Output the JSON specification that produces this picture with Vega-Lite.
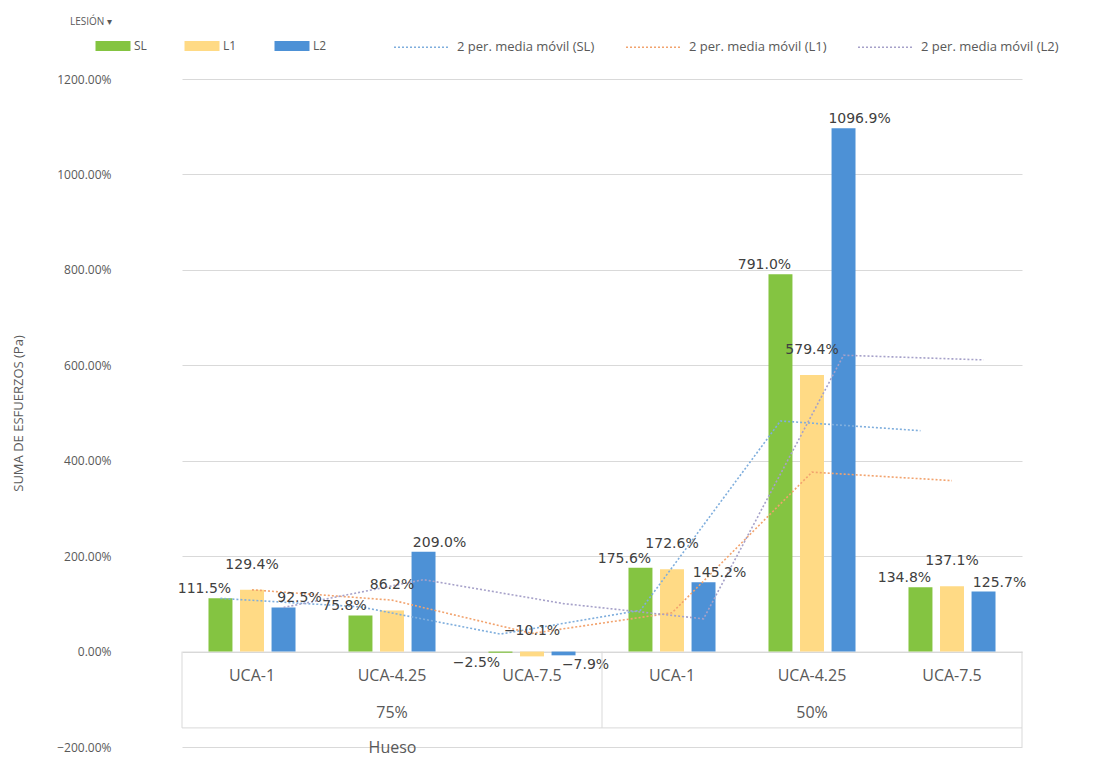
{
  "$schema": "https://vega.github.io/schema/vega-lite/v6.json",
  "width": 840,
  "height": 668,
  "autosize": {"type": "none"},
  "padding": {"left": 182, "top": 79, "right": 71, "bottom": 11},
  "background": "white",
  "locale": {"number": {"decimal": ".", "thousands": ",", "grouping": [3], "currency": ["$", ""], "minus": "-"}},
  "title": {"text": "LESIÓN ▾", "anchor": "start", "frame": "group", "dx": -112, "dy": 12, "fontSize": 10, "font": "Open Sans", "fontWeight": "normal", "color": "#595959", "offset": 4},
  "config": {"view": {"stroke": null}, "font": "Open Sans"},
  "datasets": {
    "barras": [
      {"grupo": "75%", "uca": "UCA-1", "cat": "75%|UCA-1", "serie": "SL", "valor": 1.115},
      {"grupo": "75%", "uca": "UCA-1", "cat": "75%|UCA-1", "serie": "L1", "valor": 1.294},
      {"grupo": "75%", "uca": "UCA-1", "cat": "75%|UCA-1", "serie": "L2", "valor": 0.925},
      {"grupo": "75%", "uca": "UCA-4.25", "cat": "75%|UCA-4.25", "serie": "SL", "valor": 0.758},
      {"grupo": "75%", "uca": "UCA-4.25", "cat": "75%|UCA-4.25", "serie": "L1", "valor": 0.862},
      {"grupo": "75%", "uca": "UCA-4.25", "cat": "75%|UCA-4.25", "serie": "L2", "valor": 2.09},
      {"grupo": "75%", "uca": "UCA-7.5", "cat": "75%|UCA-7.5", "serie": "SL", "valor": -0.025},
      {"grupo": "75%", "uca": "UCA-7.5", "cat": "75%|UCA-7.5", "serie": "L1", "valor": -0.101},
      {"grupo": "75%", "uca": "UCA-7.5", "cat": "75%|UCA-7.5", "serie": "L2", "valor": -0.079},
      {"grupo": "50%", "uca": "UCA-1", "cat": "50%|UCA-1", "serie": "SL", "valor": 1.756},
      {"grupo": "50%", "uca": "UCA-1", "cat": "50%|UCA-1", "serie": "L1", "valor": 1.726},
      {"grupo": "50%", "uca": "UCA-1", "cat": "50%|UCA-1", "serie": "L2", "valor": 1.452},
      {"grupo": "50%", "uca": "UCA-4.25", "cat": "50%|UCA-4.25", "serie": "SL", "valor": 7.91},
      {"grupo": "50%", "uca": "UCA-4.25", "cat": "50%|UCA-4.25", "serie": "L1", "valor": 5.794},
      {"grupo": "50%", "uca": "UCA-4.25", "cat": "50%|UCA-4.25", "serie": "L2", "valor": 10.969},
      {"grupo": "50%", "uca": "UCA-7.5", "cat": "50%|UCA-7.5", "serie": "SL", "valor": 1.348},
      {"grupo": "50%", "uca": "UCA-7.5", "cat": "50%|UCA-7.5", "serie": "L1", "valor": 1.371},
      {"grupo": "50%", "uca": "UCA-7.5", "cat": "50%|UCA-7.5", "serie": "L2", "valor": 1.257}
    ],
    "medias": [
      {"cat": "75%|UCA-1", "paso": 1, "serie": "SL", "media": "2 per. media móvil (SL)", "valor": 1.115},
      {"cat": "75%|UCA-4.25", "paso": 2, "serie": "SL", "media": "2 per. media móvil (SL)", "valor": 0.9365},
      {"cat": "75%|UCA-7.5", "paso": 3, "serie": "SL", "media": "2 per. media móvil (SL)", "valor": 0.3665},
      {"cat": "50%|UCA-1", "paso": 4, "serie": "SL", "media": "2 per. media móvil (SL)", "valor": 0.8655},
      {"cat": "50%|UCA-4.25", "paso": 5, "serie": "SL", "media": "2 per. media móvil (SL)", "valor": 4.833},
      {"cat": "50%|UCA-7.5", "paso": 6, "serie": "SL", "media": "2 per. media móvil (SL)", "valor": 4.629},
      {"cat": "75%|UCA-1", "paso": 1, "serie": "L1", "media": "2 per. media móvil (L1)", "valor": 1.294},
      {"cat": "75%|UCA-4.25", "paso": 2, "serie": "L1", "media": "2 per. media móvil (L1)", "valor": 1.078},
      {"cat": "75%|UCA-7.5", "paso": 3, "serie": "L1", "media": "2 per. media móvil (L1)", "valor": 0.3805},
      {"cat": "50%|UCA-1", "paso": 4, "serie": "L1", "media": "2 per. media móvil (L1)", "valor": 0.8125},
      {"cat": "50%|UCA-4.25", "paso": 5, "serie": "L1", "media": "2 per. media móvil (L1)", "valor": 3.76},
      {"cat": "50%|UCA-7.5", "paso": 6, "serie": "L1", "media": "2 per. media móvil (L1)", "valor": 3.5825},
      {"cat": "75%|UCA-1", "paso": 1, "serie": "L2", "media": "2 per. media móvil (L2)", "valor": 0.925},
      {"cat": "75%|UCA-4.25", "paso": 2, "serie": "L2", "media": "2 per. media móvil (L2)", "valor": 1.5075},
      {"cat": "75%|UCA-7.5", "paso": 3, "serie": "L2", "media": "2 per. media móvil (L2)", "valor": 1.0055},
      {"cat": "50%|UCA-1", "paso": 4, "serie": "L2", "media": "2 per. media móvil (L2)", "valor": 0.6865},
      {"cat": "50%|UCA-4.25", "paso": 5, "serie": "L2", "media": "2 per. media móvil (L2)", "valor": 6.2105},
      {"cat": "50%|UCA-7.5", "paso": 6, "serie": "L2", "media": "2 per. media móvil (L2)", "valor": 6.113}
    ],
    "bordes_izq": [{"cat": "75%|UCA-1"}, {"cat": "50%|UCA-1"}],
    "borde_der": [{"cat": "50%|UCA-7.5"}]
  },
  "layer": [
    {
      "data": {"name": "barras"},
      "mark": {"type": "bar"},
      "encoding": {
        "x": {
          "field": "cat", "type": "nominal",
          "scale": {"domain": ["75%|UCA-1", "75%|UCA-4.25", "75%|UCA-7.5", "50%|UCA-1", "50%|UCA-4.25", "50%|UCA-7.5"], "paddingInner": 0, "paddingOuter": 0},
          "axis": {
            "title": "Hueso", "offset": -95.43, "domain": true, "domainColor": "#d9d9d9", "ticks": false, "grid": false,
            "labelAngle": 0, "labelFont": "Open Sans", "labelFontSize": 16, "labelColor": "#595959", "labelPadding": 16,
            "labelLineHeight": 37, "labelOverlap": false, "labelBound": false,
            "labelExpr": "indexof(datum.value, 'UCA-4.25') >= 0 ? [split(datum.value, '|')[1], split(datum.value, '|')[0]] : split(datum.value, '|')[1]",
            "titleX": 210, "titleY": 96, "titleBaseline": "middle", "titleAlign": "center", "titleAnchor": "middle",
            "titleFont": "Open Sans", "titleFontSize": 16, "titleFontWeight": "normal", "titleColor": "#595959"
          }
        },
        "xOffset": {"field": "serie", "type": "nominal", "sort": ["SL", "L1", "L2"], "scale": {"paddingInner": 0.24, "paddingOuter": 0.84}},
        "y": {
          "field": "valor", "type": "quantitative",
          "scale": {"domain": [-2, 12], "nice": false, "zero": false},
          "axis": {
            "values": [-2, 0, 2, 4, 6, 8, 10, 12], "format": ".2%", "labelFont": "Open Sans", "labelFontSize": 12, "labelColor": "#595959",
            "labelPadding": 71, "domain": false, "ticks": false, "grid": true, "gridColor": "#d9d9d9", "gridWidth": 1,
            "title": "SUMA DE ESFUERZOS (Pa)", "titleFont": "Open Sans", "titleFontSize": 13, "titleFontWeight": "normal", "titleColor": "#595959",
            "titleX": -164, "titleY": 334, "titleAngle": -90, "titleBaseline": "middle", "titleAlign": "center", "titleAnchor": "middle"
          }
        },
        "color": {
          "field": "serie", "type": "nominal",
          "scale": {"domain": ["SL", "L1", "L2"], "range": ["#84C441", "#FFDA85", "#4D91D6"]},
          "legend": {
            "orient": "none", "legendX": -81, "legendY": -45, "direction": "horizontal", "title": null,
            "symbolType": "M-1.5,-0.43L1.5,-0.43L1.5,0.43L-1.5,0.43Z", "symbolSize": 544, "symbolStrokeWidth": 0,
            "labelOffset": 9, "columnPadding": 37, "labelFont": "Open Sans", "labelFontSize": 12, "labelColor": "#595959", "padding": 0
          }
        }
      }
    },
    {
      "data": {"name": "medias"},
      "mark": {"type": "line", "strokeDash": [2, 2], "strokeWidth": 1.6, "interpolate": "linear"},
      "encoding": {
        "x": {"field": "cat", "type": "nominal"},
        "xOffset": {"field": "serie", "type": "nominal", "sort": ["SL", "L1", "L2"]},
        "y": {"field": "valor", "type": "quantitative"},
        "order": {"field": "paso", "type": "quantitative"},
        "color": {
          "field": "media", "type": "nominal",
          "scale": {"domain": ["2 per. media móvil (SL)", "2 per. media móvil (L1)", "2 per. media móvil (L2)"], "range": ["#7FAEDD", "#F2A36E", "#A6A1C9"]},
          "legend": {
            "orient": "none", "legendX": 211, "legendY": -60.5, "direction": "horizontal", "title": null,
            "symbolType": "stroke", "symbolSize": 3025, "symbolDash": [2, 2], "symbolStrokeWidth": 1.6,
            "labelOffset": 7, "columnPadding": 27, "labelFont": "Open Sans", "labelFontSize": 13, "labelColor": "#595959", "padding": 0
          }
        }
      }
    },
    {
      "data": {"name": "barras"},
      "transform": [{"filter": "datum.serie === 'SL' && datum.valor >= 0"}],
      "mark": {"type": "text", "baseline": "bottom", "dy": -2, "dx": -16, "font": "DejaVu Sans", "fontSize": 14, "fill": "#404040"},
      "encoding": {
        "x": {"field": "cat", "type": "nominal"},
        "xOffset": {"field": "serie", "type": "nominal", "sort": ["SL", "L1", "L2"]},
        "y": {"field": "valor", "type": "quantitative"},
        "text": {"field": "valor", "type": "quantitative", "format": ".1%"}
      }
    },
    {
      "data": {"name": "barras"},
      "transform": [{"filter": "datum.serie === 'SL' && datum.valor < 0"}],
      "mark": {"type": "text", "baseline": "top", "dy": 3, "dx": -24, "font": "DejaVu Sans", "fontSize": 14, "fill": "#404040"},
      "encoding": {
        "x": {"field": "cat", "type": "nominal"},
        "xOffset": {"field": "serie", "type": "nominal", "sort": ["SL", "L1", "L2"]},
        "y": {"field": "valor", "type": "quantitative"},
        "text": {"field": "valor", "type": "quantitative", "format": ".1%"}
      }
    },
    {
      "data": {"name": "barras"},
      "transform": [{"filter": "datum.serie === 'L1'"}],
      "mark": {"type": "text", "baseline": "bottom", "dy": -18, "font": "DejaVu Sans", "fontSize": 14, "fill": "#404040"},
      "encoding": {
        "x": {"field": "cat", "type": "nominal"},
        "xOffset": {"field": "serie", "type": "nominal", "sort": ["SL", "L1", "L2"]},
        "y": {"field": "valor", "type": "quantitative"},
        "text": {"field": "valor", "type": "quantitative", "format": ".1%"}
      }
    },
    {
      "data": {"name": "barras"},
      "transform": [{"filter": "datum.serie === 'L2' && datum.valor >= 0"}],
      "mark": {"type": "text", "baseline": "bottom", "dy": -2, "dx": 16, "font": "DejaVu Sans", "fontSize": 14, "fill": "#404040"},
      "encoding": {
        "x": {"field": "cat", "type": "nominal"},
        "xOffset": {"field": "serie", "type": "nominal", "sort": ["SL", "L1", "L2"]},
        "y": {"field": "valor", "type": "quantitative"},
        "text": {"field": "valor", "type": "quantitative", "format": ".1%"}
      }
    },
    {
      "data": {"name": "barras"},
      "transform": [{"filter": "datum.serie === 'L2' && datum.valor < 0"}],
      "mark": {"type": "text", "baseline": "top", "dy": 3, "dx": 22, "font": "DejaVu Sans", "fontSize": 14, "fill": "#404040"},
      "encoding": {
        "x": {"field": "cat", "type": "nominal"},
        "xOffset": {"field": "serie", "type": "nominal", "sort": ["SL", "L1", "L2"]},
        "y": {"field": "valor", "type": "quantitative"},
        "text": {"field": "valor", "type": "quantitative", "format": ".1%"}
      }
    },
    {
      "data": {"name": "bordes_izq"},
      "mark": {"type": "rule", "color": "#d9d9d9", "strokeWidth": 1},
      "encoding": {
        "x": {"field": "cat", "type": "nominal", "bandPosition": 0},
        "y": {"datum": 0},
        "y2": {"datum": -1.6}
      }
    },
    {
      "data": {"name": "borde_der"},
      "mark": {"type": "rule", "color": "#d9d9d9", "strokeWidth": 1},
      "encoding": {
        "x": {"field": "cat", "type": "nominal", "bandPosition": 1},
        "y": {"datum": 0},
        "y2": {"datum": -2}
      }
    },
    {
      "data": {"values": [{"linea": "tabla"}]},
      "mark": {"type": "rule", "color": "#d9d9d9", "strokeWidth": 1},
      "encoding": {"y": {"datum": -1.6}}
    }
  ],
  "resolve": {"scale": {"color": "independent"}}
}
